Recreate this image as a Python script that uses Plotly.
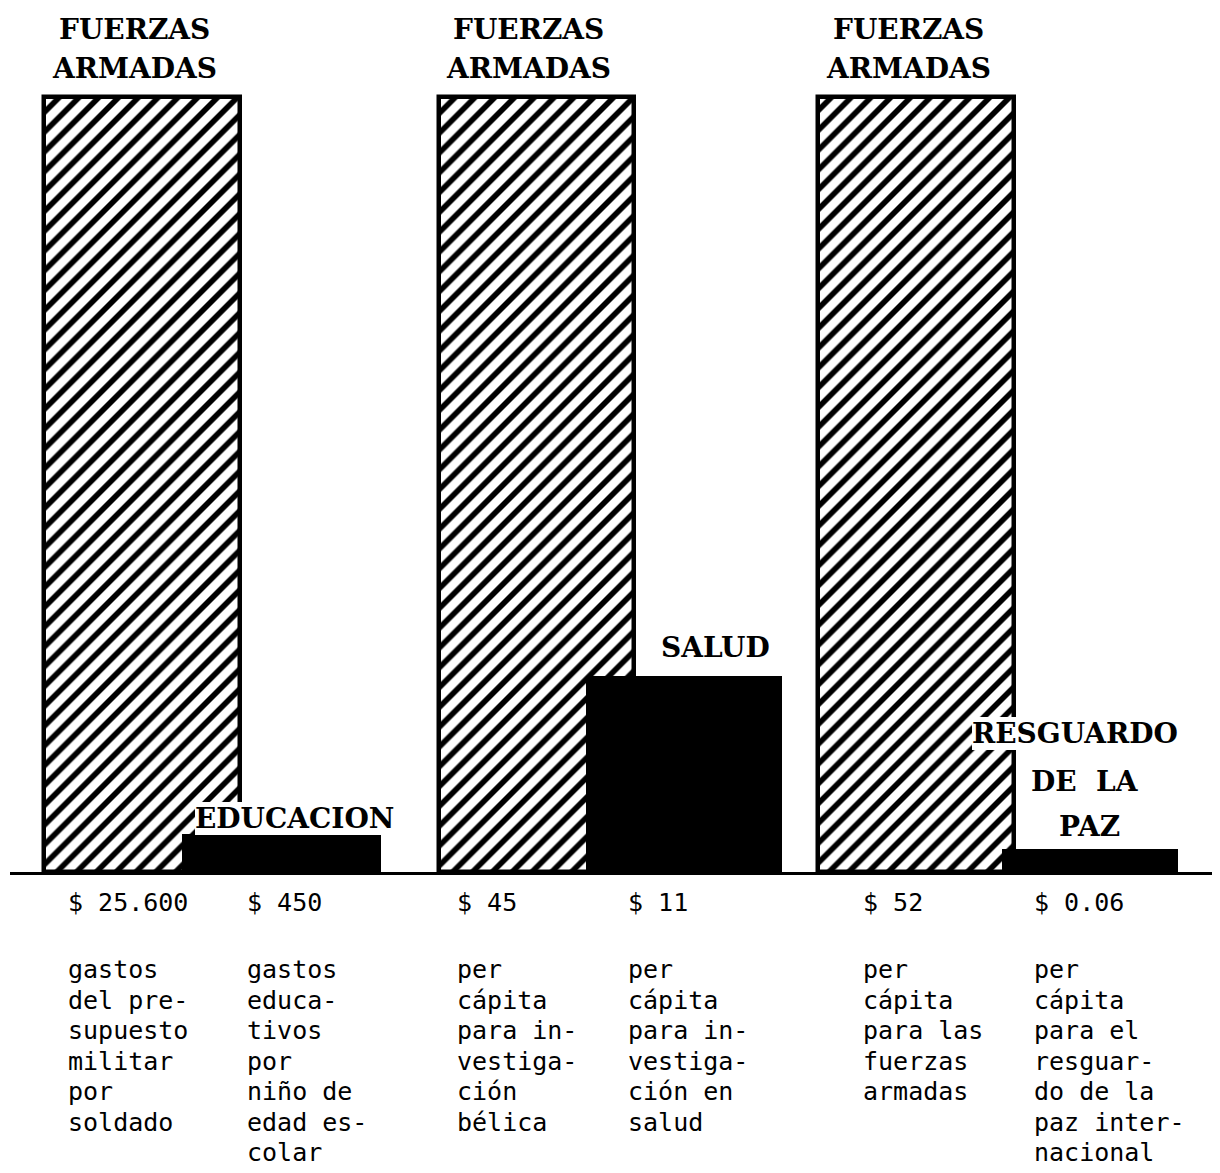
import plotly.graph_objects as go

# ---------------- data ----------------
GROUPS = ["Educación", "Salud", "Resguardo de la paz"]
MIL_TITLE = ["FUERZAS", "ARMADAS"]
CIV_TITLES = [["EDUCACION"], ["SALUD"], ["RESGUARDO", "DE  LA", "PAZ"]]
# drawn bar heights (illustrative, not to scale), % of tallest bar
MIL_HEIGHT = [100, 100, 100]
CIV_HEIGHT = [4.8, 25.2, 2.8]
MIL_VALUE = ["$ 25.600", "$ 45", "$ 52"]
CIV_VALUE = ["$ 450", "$ 11", "$ 0.06"]
MIL_DESC = [
    ["gastos", "del pre-", "supuesto", "militar", "por", "soldado"],
    ["per", "cápita", "para in-", "vestiga-", "ción", "bélica"],
    ["per", "cápita", "para las", "fuerzas", "armadas"],
]
CIV_DESC = [
    ["gastos", "educa-", "tivos", "por", "niño de", "edad es-", "colar"],
    ["per", "cápita", "para in-", "vestiga-", "ción en", "salud"],
    ["per", "cápita", "para el", "resguar-", "do de la", "paz inter-", "nacional"],
]

# ---------------- layout constants ----------------
MIL_X = [0.0, 1.02, 2.0]
CIV_X = [0.36, 1.40, 2.45]
MIL_W = 0.504
CIV_W = [0.51, 0.50, 0.45]
X_RANGE = [-0.3411, 2.7855]
Y_RANGE = [0, 111.48]

TITLE_FONT = dict(family="DejaVu Serif", size=28, color="black")
TEXT_FONT = dict(family="DejaVu Sans Mono", size=25, color="black")
DESC_TOP = -81      # px below the axis for the first description line
DESC_STEP = 30.5    # px between description lines

fig = go.Figure()
fig.add_trace(go.Bar(
    x=MIL_X, y=MIL_HEIGHT, width=[MIL_W] * 3,
    marker=dict(color="white",
                line=dict(color="black", width=4.5),
                pattern=dict(shape="/", fgcolor="black", bgcolor="white",
                             fgopacity=1, fillmode="replace",
                             size=14, solidity=0.4)),
    hoverinfo="skip", showlegend=False,
))
fig.add_trace(go.Bar(
    x=CIV_X, y=CIV_HEIGHT, width=CIV_W,
    marker=dict(color="black", line=dict(color="black", width=2)),
    hoverinfo="skip", showlegend=False,
))

ann = []
# titles above military bars
MIL_TITLE_SHIFT = [67, 28]
for i in range(3):
    for j, line in enumerate(MIL_TITLE):
        ann.append(dict(x=MIL_X[i], y=MIL_HEIGHT[i], xref="x", yref="y",
                        text="<b>" + line + "</b>", showarrow=False,
                        xanchor="center", yanchor="middle",
                        yshift=MIL_TITLE_SHIFT[j], xshift=-8,
                        font=TITLE_FONT))
# titles above civil bars
CIV_TITLE_SHIFT = [[0], [29], [117, 69, 24]]
CIV_TITLE_ANCHOR = [["bottom"], ["middle"], ["middle", "middle", "middle"]]
CIV_TITLE_XSHIFT = [[13], [32], [-15, -5, -1]]
for i in range(3):
    for j, line in enumerate(CIV_TITLES[i]):
        ann.append(dict(x=CIV_X[i], y=CIV_HEIGHT[i], xref="x", yref="y",
                        text="<b>" + line + "</b>", showarrow=False,
                        xanchor="center", yanchor=CIV_TITLE_ANCHOR[i][j],
                        yshift=CIV_TITLE_SHIFT[i][j], xshift=CIV_TITLE_XSHIFT[i][j],
                        bgcolor="white", borderpad=0, borderwidth=0,
                        font=TITLE_FONT))
# values and descriptions below the axis
MIL_COL_SHIFT = [22, 16, 43]
CIV_COL_SHIFT = [62, 39, 29]
for i in range(3):
    for xs, xc, w, val, desc in [
        (MIL_COL_SHIFT[i], MIL_X[i], MIL_W, MIL_VALUE[i], MIL_DESC[i]),
        (CIV_COL_SHIFT[i], CIV_X[i], CIV_W[i], CIV_VALUE[i], CIV_DESC[i]),
    ]:
        ann.append(dict(x=xc - w / 2, y=0, xref="x", yref="y", text=val,
                        showarrow=False, xanchor="left", yanchor="middle",
                        xshift=xs, yshift=-30, font=TEXT_FONT, align="left"))
        for k, line in enumerate(desc):
            ann.append(dict(x=xc - w / 2, y=0, xref="x", yref="y",
                            text=line, showarrow=False,
                            xanchor="left", yanchor="top",
                            xshift=xs, yshift=DESC_TOP - k * DESC_STEP,
                            font=TEXT_FONT, align="left"))

fig.update_layout(
    width=1212, height=1165,
    margin=dict(l=2, r=0, t=0, b=301, pad=0),
    paper_bgcolor="white", plot_bgcolor="white",
    barmode="overlay", bargap=0,
    xaxis=dict(range=X_RANGE, showline=True, linecolor="black", linewidth=3,
               showgrid=False, zeroline=False, showticklabels=False, ticks=""),
    yaxis=dict(range=Y_RANGE, visible=False, showgrid=False, zeroline=False),
    annotations=ann,
    showlegend=False,
)
fig.write_html("out.html")
